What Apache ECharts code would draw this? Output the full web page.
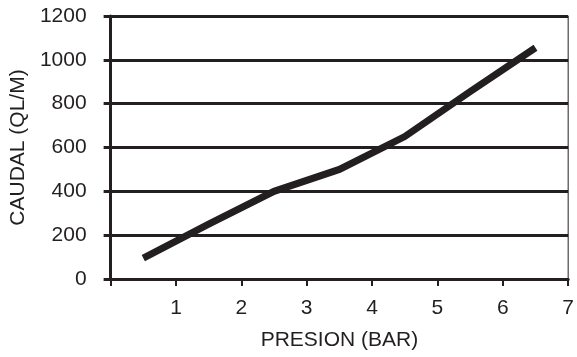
<!DOCTYPE html>
<html>
<head>
<meta charset="utf-8">
<script src="https://cdn.jsdelivr.net/npm/echarts@6/dist/echarts.min.js"></script>
<style>
html,body{margin:0;padding:0;background:#fff;}
#c{width:577px;height:357px;}
</style>
</head>
<body>
<div id="c"></div>
<script>
var pressures = [0.5, 1.5, 2.5, 3.5, 4.5, 5.5, 6.5];
var flows = [95, 250, 400, 500, 650, 855, 1055];
var xName = 'PRESION (BAR)';
var yName = 'CAUDAL (QL/M)';

var ink = '#231f20';
var font = 'Liberation Sans';

var chart = echarts.init(document.getElementById('c'), null, {renderer: 'canvas'});
chart.setOption({
  animation: false,
  backgroundColor: '#fff',
  grid: {left: 107, right: 7, top: 16, bottom: 78, show: true, borderColor: ink, borderWidth: 1, backgroundColor: 'transparent'},
  xAxis: {
    type: 'value', min: 0, max: 7, interval: 1,
    name: xName, nameLocation: 'middle', nameGap: 51,
    nameTextStyle: {color: ink, fontSize: 21, fontFamily: font},
    axisLine: {show: true, onZero: false, lineStyle: {color: ink, width: 3}},
    axisTick: {show: true, inside: false, length: 7, lineStyle: {color: ink, width: 2}},
    axisLabel: {color: ink, fontSize: 21, fontFamily: font, margin: 19,
      formatter: function (v) { return v === 0 ? '' : String(v); }},
    splitLine: {show: false}
  },
  yAxis: {
    type: 'value', min: 0, max: 1200, interval: 200,
    name: yName, nameLocation: 'middle', nameGap: 79,
    nameTextStyle: {color: ink, fontSize: 21, fontFamily: font},
    axisLine: {show: true, onZero: false, lineStyle: {color: ink, width: 3}},
    axisTick: {show: true, inside: false, length: 7, lineStyle: {color: ink, width: 3}},
    axisLabel: {color: ink, fontSize: 21, fontFamily: font, margin: 24,
      formatter: function (v) { return String(v); }},
    splitLine: {show: true, lineStyle: {color: ink, width: 3}}
  },
  series: [{
    type: 'line',
    data: pressures.map(function (p, i) { return [p, flows[i]]; }),
    showSymbol: false,
    symbol: 'none',
    lineStyle: {color: ink, width: 7, cap: 'butt', join: 'miter'}
  }]
});
</script>
</body>
</html>
